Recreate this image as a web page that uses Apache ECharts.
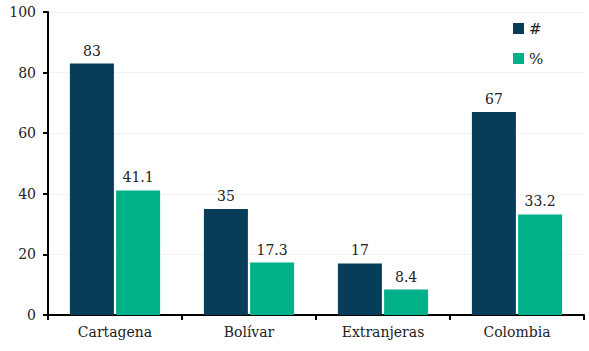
<!DOCTYPE html>
<html>
<head>
<meta charset="utf-8">
<script src="https://cdn.jsdelivr.net/npm/echarts@6/dist/echarts.min.js"></script>
<style>
	html, body { margin: 0; padding: 0; background: #fff; }
	#chart { width: 589px; height: 351px; }
</style>
</head>
<body>
<div id="chart"></div>
<script>
const categories = [ 'Cartagena', 'Bolívar', 'Extranjeras', 'Colombia' ];
const countValues = [ 83, 35, 17, 67 ];
const percentValues = [ 41.1, 17.3, 8.4, 33.2 ];
const yTicks = { min: 0, max: 100, interval: 20 };

const font = 'DejaVu Serif';
const navy = '#073d59';
const green = '#00b088';

const labelStyle = {
	show: true,
	position: 'top',
	distance: 6,
	color: '#222',
	fontFamily: font,
	fontSize: 14
};

const chart = echarts.init( document.getElementById( 'chart' ), null, { renderer: 'svg' } );

chart.setOption( {
	animation: false,
	textStyle: { fontFamily: font },
	grid: { left: 48, right: 5, top: 12, bottom: 36, containLabel: false },
	legend: {
		orient: 'vertical',
		left: 508,
		top: 16,
		itemWidth: 11,
		itemHeight: 11,
		itemGap: 15,
		padding: 5,
		icon: 'rect',
		textStyle: { fontFamily: font, fontSize: 15, color: '#222' },
		data: [ '#', '%' ]
	},
	xAxis: {
		type: 'category',
		data: categories,
		axisLine: { lineStyle: { color: '#000', width: 2 } },
		axisTick: { show: true, length: 5, lineStyle: { color: '#000', width: 2 } },
		axisLabel: { color: '#222', fontFamily: font, fontSize: 14, margin: 10 }
	},
	yAxis: {
		type: 'value',
		min: yTicks.min,
		max: yTicks.max,
		interval: yTicks.interval,
		axisLine: { show: true, lineStyle: { color: '#000', width: 2 } },
		axisTick: { show: true, length: 5, lineStyle: { color: '#000', width: 2 } },
		axisLabel: { color: '#222', fontFamily: font, fontSize: 14, margin: 12 },
		splitLine: { show: true, lineStyle: { color: '#f2f2f2', width: 1 } }
	},
	series: [
		{
			name: '#',
			type: 'bar',
			data: countValues,
			barWidth: 44,
			barGap: '5%',
			itemStyle: { color: navy },
			label: labelStyle
		},
		{
			name: '%',
			type: 'bar',
			data: percentValues,
			barWidth: 44,
			itemStyle: { color: green },
			label: labelStyle
		}
	]
} );
</script>
</body>
</html>
